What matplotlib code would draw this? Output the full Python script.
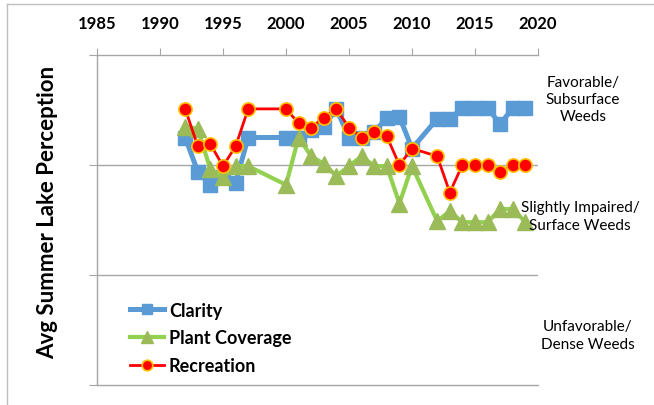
import matplotlib
matplotlib.use("Agg")
from matplotlib import pyplot as plt
from matplotlib.lines import Line2D

plt.rcParams['font.family'] = ['Lato', 'DejaVu Sans']

years = [1992, 1993, 1994, 1995, 1996, 1997, 2000, 2001, 2002, 2003, 2004, 2005,
         2006, 2007, 2008, 2009, 2010, 2012, 2013, 2014, 2015, 2016, 2017, 2018, 2019]

clarity = [1.75, 2.06, 2.18, 2.11, 2.16, 1.75, 1.75, 1.75, 1.68, 1.65, 1.49, 1.75,
           1.75, 1.70, 1.57, 1.56, 1.85, 1.58, 1.58, 1.48, 1.48, 1.48, 1.63, 1.48, 1.48]

plant = [1.65, 1.67, 2.04, 2.11, 2.01, 2.01, 2.18, 1.75, 1.92, 1.99, 2.10, 2.01,
         1.92, 2.01, 2.01, 2.35, 2.01, 2.51, 2.42, 2.52, 2.52, 2.52, 2.40, 2.40, 2.52]

recreation = [1.49, 1.83, 1.81, 2.01, 1.83, 1.49, 1.49, 1.62, 1.66, 1.57, 1.49, 1.66,
              1.75, 1.70, 1.74, 2.00, 1.85, 1.92, 2.25, 2.00, 2.00, 2.00, 2.06, 2.00, 2.00]

year_ticks = [1985, 1990, 1995, 2000, 2005, 2010, 2015, 2020]
band_labels = ['Favorable/\nSubsurface\nWeeds',
               'Slightly Impaired/\nSurface Weeds',
               'Unfavorable/\nDense Weeds']

grey = '#A6A6A6'

fig = plt.figure(figsize=(6.54, 4.06), dpi=100)
ax = fig.add_axes([97 / 654, 1 - 386 / 406, 441 / 654, 330 / 406])

ax.plot(years, clarity, color='#5B9BD5', lw=3.6, marker='s', ms=9.5,
        mec='#5B9BD5', mfc='#5B9BD5', label='Clarity', zorder=3)
ax.plot(years, plant, color='#92D050', lw=3.0, marker='^', ms=11,
        mec='#9BBB59', mfc='#9BBB59', label='Plant Coverage', zorder=4)
ax.plot(years, recreation, color='#FF0000', lw=2.0, marker='o', ms=9.5,
        mec='#FFC000', mew=1.2, mfc='#FF0000', label='Recreation', zorder=5)

ax.set_xlim(1985, 2020)
ax.set_ylim(4, 1)
ax.set_xticks(year_ticks)
ax.set_xticklabels([str(y) for y in year_ticks], fontweight='bold', fontsize=12)
ax.xaxis.tick_top()
ax.tick_params(axis='x', direction='out', length=5, color=grey, pad=12)
ax.set_yticks([1, 2, 3, 4])
ax.set_yticklabels([])
ax.tick_params(axis='y', direction='out', length=6, color=grey)
for y in [2, 3]:
    ax.axhline(y, color=grey, lw=1.0, zorder=1)

ax.spines['right'].set_visible(False)
for side in ['top', 'left', 'bottom']:
    ax.spines[side].set_color(grey)
    ax.spines[side].set_linewidth(1.0)

# y label placed by hand, like the reference
fig.text(48 / 654, 1 - 212 / 406, 'Avg Summer Lake Perception', rotation=90,
         ha='center', va='center', fontweight='bold', fontsize=16)

leg = ax.legend(loc='center left', bbox_to_anchor=(130 / 654, 1 - 339 / 406),
                bbox_transform=fig.transFigure, frameon=False, fontsize=13,
                handlelength=1.9, handletextpad=0.25, labelspacing=0.6,
                borderpad=0, borderaxespad=0, numpoints=1, markerscale=0.8)
for t in leg.get_texts():
    t.set_fontweight('bold')

band_pos = [(583, 100), (580, 217), (588, 336)]
for lab, (px, py) in zip(band_labels, band_pos):
    fig.text(px / 654, 1 - py / 406, lab, ha='center', va='center',
             fontsize=11, linespacing=1.3)

fig.add_artist(Line2D([7 / 654, 7 / 654], [0, 1 - 5 / 406], color='#BFBFBF', lw=1.0))
fig.add_artist(Line2D([7 / 654, 1], [1 - 5 / 406, 1 - 5 / 406], color='#BFBFBF', lw=1.0))

fig.savefig('out.png', dpi=100)
